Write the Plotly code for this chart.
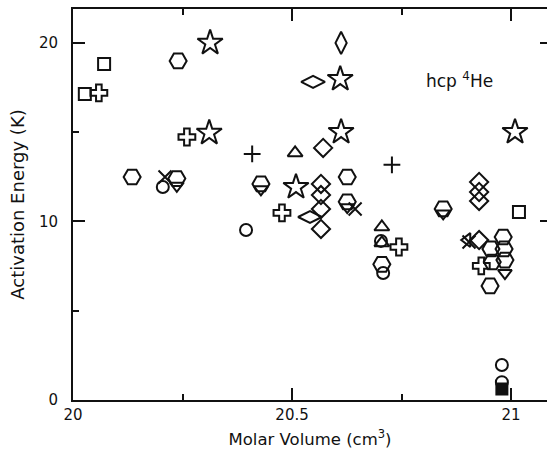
import plotly.graph_objects as go

# Data (molar volume cm^3, activation energy K)
square_x = [20.027, 20.071, 21.018]
square_y = [17.14, 18.82, 10.53]

cross_x = [20.059, 20.260, 20.477, 20.744, 20.932]
cross_y = [17.20, 14.73, 10.48, 8.57, 7.51]

hex_x = [20.135, 20.240, 20.626, 20.705, 20.237, 20.982, 20.954, 20.984, 20.957, 20.986, 20.952,
         20.429, 20.626, 20.845]
hex_y = [12.49, 18.99, 12.49, 7.60, 12.40, 9.13, 8.46, 8.46, 7.73, 7.84, 6.39,
         12.10, 11.10, 10.70]

xmark_x = [20.210, 20.644, 20.904]
xmark_y = [12.49, 10.70, 8.85]

star_x = [20.313, 20.311, 20.610, 20.612, 20.509, 21.009]
star_y = [20.0, 14.96, 17.98, 15.01, 11.93, 15.01]

dtall_x = [20.612]
dtall_y = [20.0]

dwide_x = [20.548, 20.541]
dwide_y = [17.82, 10.25]

diam_x = [20.571, 20.566, 20.566, 20.566, 20.566, 20.927, 20.927, 20.927, 20.927]
diam_y = [14.12, 12.10, 11.48, 10.70, 9.58, 12.21, 11.65, 11.15, 8.96]

triup_x = [20.507, 20.705, 20.705]
triup_y = [13.84, 9.69, 8.80]

tridown_x = [20.429, 20.237, 20.626, 20.845, 20.986]
tridown_y = [11.80, 12.00, 10.80, 10.45, 7.11]

trileft_x = [20.900]
trileft_y = [8.96]

plus_x = [20.409, 20.728]
plus_y = [13.78, 13.17]

circle_x = [20.395, 20.205, 20.708, 20.703, 20.979, 20.979]
circle_y = [9.52, 11.93, 7.11, 8.91, 1.96, 1.00]

filled_x = [20.979]
filled_y = [0.62]

x_ticks = [20, 20.5, 21]
x_ticklabels = ["20", "20.5", "21"]
y_ticks = [0, 10, 20]
y_ticklabels = ["0", "10", "20"]

FONT = "DejaVu Sans"
BLACK = "#111111"

fig = go.Figure()


def add(xs, ys, symbol, size, lw=2):
    fig.add_trace(go.Scatter(
        x=xs, y=ys, mode="markers", showlegend=False, hoverinfo="skip",
        marker=dict(symbol=symbol, size=size, color=BLACK,
                    line=dict(color=BLACK, width=lw)),
    ))


add(square_x, square_y, "square-open", 12)
add(cross_x, cross_y, "cross-open", 14)
add(hex_x, hex_y, "hexagon2-open", 17)
add(xmark_x, xmark_y, "x-thin-open", 13)
add(star_x, star_y, "star-open", 19)
add(dtall_x, dtall_y, "diamond-tall-open", 16)
add(dwide_x, dwide_y, "diamond-wide-open", 17)
add(diam_x, diam_y, "diamond-open", 14)
add(triup_x, triup_y, "triangle-up-open", 13)
add(tridown_x, tridown_y, "triangle-down-open", 12)
add(trileft_x, trileft_y, "triangle-left-open", 12)
add(plus_x, plus_y, "cross-thin-open", 12)
add(circle_x, circle_y, "circle-open", 12)
add(filled_x, filled_y, "square", 11)

# empty trace to carry the right-side tick axis
fig.add_trace(go.Scatter(x=[None], y=[None], yaxis="y2", showlegend=False, hoverinfo="skip"))

fig.add_annotation(x=20.882, y=17.9, text="hcp <sup>4</sup>He", showarrow=False,
                   font=dict(family=FONT, size=17, color=BLACK))

fig.update_layout(
    width=547, height=455,
    margin=dict(l=73, r=0, t=9, b=55),
    paper_bgcolor="white", plot_bgcolor="white",
    font=dict(family=FONT, size=15, color=BLACK),
    xaxis=dict(
        range=[20, 21.082], tickvals=x_ticks, ticktext=x_ticklabels, automargin=False,
        showgrid=False, zeroline=False, showline=True, linecolor=BLACK, linewidth=2,
        mirror="ticks", ticks="inside", ticklen=12, tickwidth=2, tickcolor=BLACK,
        minor=dict(dtick=0.25, tick0=20, ticks="inside", ticklen=6, tickwidth=2, tickcolor=BLACK),
        title=dict(text="Molar Volume (cm<sup>3</sup>)", font=dict(size=16.5), standoff=10),
    ),
    yaxis=dict(
        range=[0, 21.9], tickvals=y_ticks, ticktext=y_ticklabels, automargin=False,
        showgrid=False, zeroline=False, showline=True, linecolor=BLACK, linewidth=2,
        mirror=False, ticks="inside", ticklen=12, tickwidth=2, tickcolor=BLACK,
        ticklabelstandoff=10,
        minor=dict(dtick=5, tick0=0, ticks="inside", ticklen=6, tickwidth=2, tickcolor=BLACK),
        title=dict(text="Activation Energy (K)", font=dict(size=18), standoff=10),
    ),
    yaxis2=dict(
        range=[0, 21.9], overlaying="y", side="right", tickvals=[10, 20], automargin=False,
        showticklabels=False, showgrid=False, zeroline=False, showline=False,
        ticks="inside", ticklen=7, tickwidth=2, tickcolor=BLACK,
    ),
)

fig.write_html(
    "out.html",
    config={"displayModeBar": False},
    post_script="document.body.style.margin='0';document.body.style.overflow='hidden';",
)
